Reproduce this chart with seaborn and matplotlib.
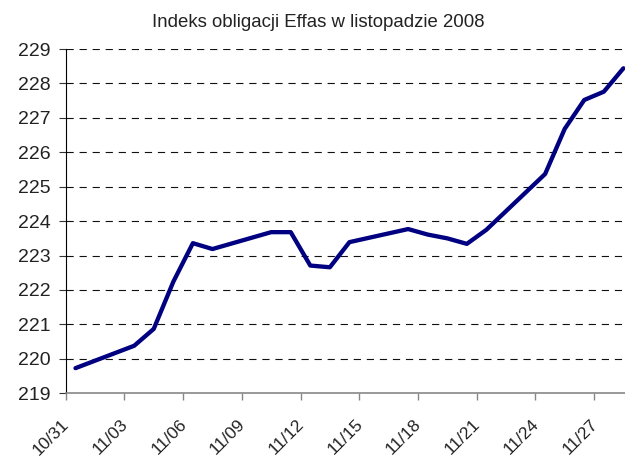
import pandas as pd
import matplotlib.pyplot as plt
import matplotlib.dates as mdates
import seaborn as sns

sns.set_theme(style="white")
plt.rcParams['font.family'] = ['Liberation Sans', 'DejaVu Sans']
plt.rcParams['lines.scale_dashes'] = False

dates = ["2008-10-31", "2008-11-03", "2008-11-04", "2008-11-05", "2008-11-06",
         "2008-11-07", "2008-11-10", "2008-11-11", "2008-11-12", "2008-11-13",
         "2008-11-14", "2008-11-17", "2008-11-18", "2008-11-19", "2008-11-20",
         "2008-11-21", "2008-11-24", "2008-11-25", "2008-11-26", "2008-11-27",
         "2008-11-28"]
values = [219.73, 220.38, 220.87, 222.24, 223.36,
          223.19, 223.68, 223.68, 222.71, 222.66,
          223.39, 223.77, 223.61, 223.50, 223.34,
          223.75, 225.37, 226.68, 227.52, 227.76,
          228.44]
tick_dates = ["2008-10-31", "2008-11-03", "2008-11-06", "2008-11-09", "2008-11-12",
              "2008-11-15", "2008-11-18", "2008-11-21", "2008-11-24", "2008-11-27"]
y_ticks = list(range(219, 230))
title = "Indeks obligacji Effas w listopadzie 2008"

df = pd.DataFrame({"data": pd.to_datetime(dates), "indeks": values})
# punkty w srodku dnia, tak jak na osi dat w Excelu
df["x"] = df["data"] + pd.Timedelta(hours=12)

fig = plt.figure(figsize=(6.25, 4.61), dpi=100)
ax = fig.add_axes([0.1051, 0.1469, 0.908, 0.7468])

for y in y_ticks[1:]:
    ax.axhline(y, color="#111111", lw=0.8, ls=(0, (5.2, 4.2)), zorder=1)

sns.lineplot(data=df, x="x", y="indeks", ax=ax, color="#000080", lw=3.1, zorder=3)

ax.set_xlim(pd.Timestamp("2008-10-31"), pd.Timestamp("2008-11-29"))
ax.set_ylim(219, 229)
ax.set_yticks(y_ticks)
ax.set_xticks(pd.to_datetime(tick_dates))
ax.xaxis.set_major_formatter(mdates.DateFormatter("%m/%d"))

ax.tick_params(axis="y", left=True, length=5, width=0.8, color="#333333",
               labelsize=14, pad=6, labelcolor="#222222")
ax.tick_params(axis="x", bottom=True, length=5, width=1.0, color="#888888",
               labelsize=12.5, pad=15, labelcolor="#222222")
for lab in ax.get_xticklabels():
    lab.set_rotation(45)
    lab.set_ha("right")
    lab.set_va("center_baseline")
    lab.set_rotation_mode("anchor")

for side in ["top", "right"]:
    ax.spines[side].set_visible(False)
ax.spines["left"].set_color("#000000")
ax.spines["left"].set_linewidth(0.8)
ax.spines["bottom"].set_color("#888888")
ax.spines["bottom"].set_linewidth(1.2)

ax.set_xlabel("")
ax.set_ylabel("")
fig.text(0.509, 0.952, title, ha="center", va="center", fontsize=13.4, color="#222222")

fig.savefig("out.png", dpi=100)
